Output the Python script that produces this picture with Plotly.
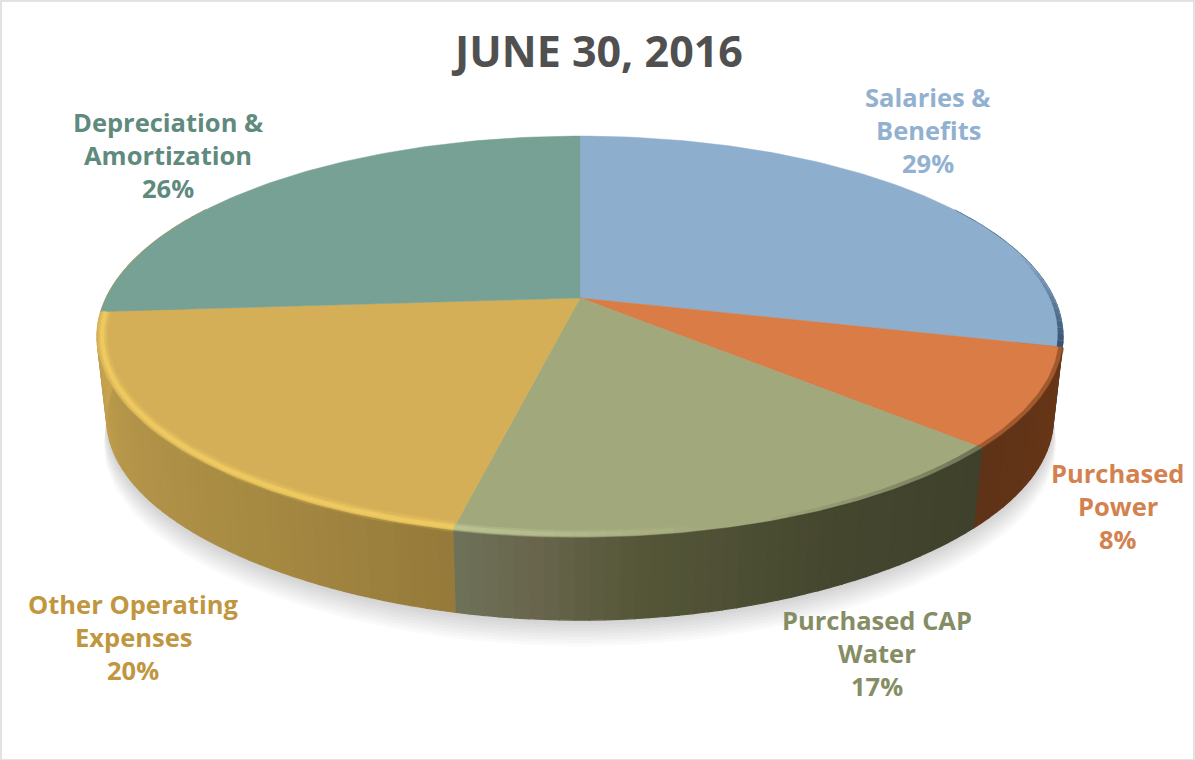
import numpy as np
import plotly.graph_objects as go

# ---- data ----
title_text = "JUNE 30, 2016"
categories = ["Salaries & Benefits", "Purchased Power", "Purchased CAP Water",
              "Other Operating Expenses", "Depreciation & Amortization"]
values = [28.9, 7.9, 16.7, 20.4, 26.1]
top_colors = ["#8eaecd", "#d97c45", "#a1a87c", "#d5af57", "#78a195"]
text_colors = ["#92b1d1", "#d3824f", "#858d65", "#c0963f", "#5f8a7e"]
wall_stops = [
    [(0.0, "#33506e"), (1.0, "#3d5a78")],
    [(0.0, "#6a3717"), (1.0, "#5f3318")],
    [(0.0, "#3f412c"), (0.35, "#45472f"), (0.7, "#565739"), (0.88, "#6a674f"), (1.0, "#6d7358")],
    [(0.0, "#957a3b"), (0.3, "#a78a42"), (0.65, "#b4954a"), (1.0, "#c8a44f")],
    [(0.0, "#c8a44f"), (1.0, "#5d8579")],
]
label_lines = [["Salaries &", "Benefits", "29%"], ["Purchased", "Power", "8%"],
               ["Purchased CAP", "Water", "17%"], ["Other Operating", "Expenses", "20%"],
               ["Depreciation &", "Amortization", "26%"]]
label_x = [928, 1118, 877, 133, 168]
label_y = [97, 473, 620, 604, 122]

# ---- perspective of the disc ----
CX, CY, A, B, K = 580.0, 298.0, 474.0, 193.0, 0.192
DEPTH, SCALE = 83.0, 0.98
LINE_GAP = 33


def top(theta, r=1.0):
    th = np.radians(theta)
    u, v = r * np.sin(th), -r * np.cos(th)
    d = 1 - K * v
    return CX + A * u / d, CY + B * v / d


def bottom(theta):
    x, y = top(theta)
    v = np.maximum(-np.cos(np.radians(theta)), 0)
    return CX + SCALE * (x - CX), CY + DEPTH + 5 * v ** 8 + SCALE * (y - CY)


def hex2rgb(c):
    return np.array([int(c[i:i + 2], 16) for i in (1, 3, 5)], float)


def mix(stops, t):
    ts = [s[0] for s in stops]
    rgb = np.array([hex2rgb(s[1]) for s in stops])
    return "rgb(%d,%d,%d)" % tuple(np.interp(t, ts, rgb[:, i]) for i in range(3))


edges = np.concatenate([[0], np.cumsum(values)]) / np.sum(values) * 360
fig = go.Figure()


def poly(x, y, color, lw=1.2):
    fig.add_trace(go.Scatter(x=x, y=y, mode="lines", fill="toself", fillcolor=color,
                             line=dict(color=color, width=lw), hoverinfo="skip", showlegend=False))


def stroke(x, y, color, width):
    fig.add_trace(go.Scatter(x=x, y=y, mode="lines", line=dict(color=color, width=width),
                             hoverinfo="skip", showlegend=False))


# soft shadow
ring = np.linspace(60, 300, 120)
for off, sp in [(26, 1.006), (23, 1.005), (20, 1.005), (17, 1.004), (14, 1.004), (11, 1.003),
                (8, 1.002), (5, 1.002), (2, 1.001)]:
    bx, by = bottom(ring)
    fig.add_trace(go.Scatter(x=CX + sp * (bx - CX), y=by + off, mode="lines", fill="toself",
                             fillcolor="rgba(90,90,90,0.028)", line=dict(width=0),
                             hoverinfo="skip", showlegend=False))

# side wall
for i in range(len(values)):
    a0, a1 = edges[i], edges[i + 1]
    lo, hi = max(a0, 60), min(a1, 300)
    if hi <= lo:
        continue
    n = max(2, int((hi - lo) / 1.5))
    grid = np.linspace(lo, hi, n + 1)
    for j in range(n):
        seg = np.linspace(grid[j], grid[j + 1], 3)
        tx, ty = top(seg)
        bx, by = bottom(seg[::-1])
        t = (0.5 * (grid[j] + grid[j + 1]) - a0) / (a1 - a0)
        poly(np.r_[tx, bx, tx[0]], np.r_[ty, by, ty[0]], mix(wall_stops[i], t))

# top slices
for i in range(len(values)):
    arc = np.linspace(edges[i], edges[i + 1], 90)
    ax, ay = top(arc)
    poly(np.r_[CX, ax, CX], np.r_[CY, ay, CY], top_colors[i], lw=0.5)


# rim highlights / darkening
def span(i, f0, f1):
    return edges[i] + f0 * (edges[i + 1] - edges[i]), edges[i] + f1 * (edges[i + 1] - edges[i])


def rim_solid(i, color, alpha, width, r, f0=0.0, f1=1.0):
    x, y = top(np.linspace(*span(i, f0, f1), 90), r)
    stroke(x, y, "rgba(%d,%d,%d,%.3f)" % (*hex2rgb(color), alpha), width)


def rim_fade(i, color, a0, a1, w0, w1, r, f0=0.0, f1=1.0, n=16):
    g = np.linspace(*span(i, f0, f1), n + 1)
    for j in range(n):
        s = j / max(n - 1, 1)
        x, y = top(np.linspace(g[j], g[j + 1], 4), r)
        stroke(x, y, "rgba(%d,%d,%d,%.3f)" % (*hex2rgb(color), a0 + (a1 - a0) * s), w0 + (w1 - w0) * s)


for w, al in [(11, 0.16), (7, 0.28), (4, 0.42)]:
    rim_solid(3, "#fbd866", al, w, 0.99)
for w, al in [(8, 0.4), (4, 0.6)]:
    rim_fade(2, "#c3ca98", 0.0, al, w, w, 0.99, 0.55, 1.0)
rim_fade(2, "#3f412c", 0.5, 0.0, 7, 5, 0.998, 0.0, 0.5)
rim_solid(1, "#6a3717", 0.5, 6, 0.998)
# the blue slice darkens towards the far right edge
rim_fade(0, "#2f4a68", 0.0, 0.9, 1, 6, 0.995, 0.72, 1.0)

# texts
ann = [dict(x=597, y=50, text=title_text, showarrow=False,
            font=dict(family="Open Sans", size=43, color="#505050", weight="bold"))]
for i, lines in enumerate(label_lines):
    for k, line in enumerate(lines):
        ann.append(dict(x=label_x[i], y=label_y[i] + k * LINE_GAP, text=line, showarrow=False,
                        font=dict(family="Open Sans", size=25.5, color=text_colors[i], weight="bold")))

fig.update_layout(
    width=1195, height=760, margin=dict(l=0, r=0, t=0, b=0), autosize=False,
    paper_bgcolor="white", plot_bgcolor="white", showlegend=False,
    xaxis=dict(range=[0, 1195], visible=False, fixedrange=True),
    yaxis=dict(range=[760, 0], visible=False, fixedrange=True),
    annotations=ann,
    shapes=[dict(type="rect", xref="x", yref="y", x0=1, y0=1, x1=1194, y1=760,
                 line=dict(color="#e2e2e2", width=2), fillcolor="rgba(0,0,0,0)")],
)
fig.write_html("out.html", config=dict(displayModeBar=False),
               post_script="document.body.style.margin='0';document.documentElement.style.overflow='hidden';")
